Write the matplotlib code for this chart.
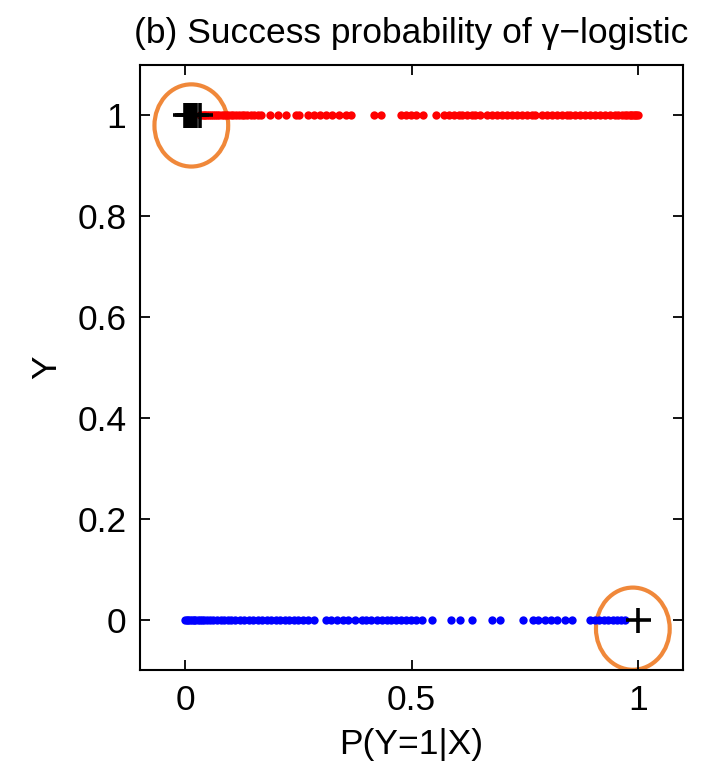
import matplotlib
matplotlib.use('Agg')
import matplotlib.pyplot as plt
from matplotlib.patches import Ellipse

plt.rcParams['font.family'] = ['Liberation Sans', 'DejaVu Sans']

# P(Y=1|X) for the samples with Y = 1 (red) and Y = 0 (blue)
p_y1 = [0.032, 0.036, 0.04, 0.044, 0.048, 0.052, 0.057, 0.061, 0.066, 0.07, 0.075,
        0.08, 0.085, 0.09, 0.095, 0.1, 0.106, 0.112, 0.118, 0.124, 0.13, 0.137,
        0.144, 0.152, 0.16, 0.167, 0.186, 0.204, 0.222, 0.244, 0.252, 0.27, 0.285,
        0.298, 0.31, 0.325, 0.34, 0.355, 0.366, 0.417, 0.432, 0.476, 0.487, 0.498,
        0.509, 0.526, 0.553, 0.571, 0.582, 0.593, 0.604, 0.612, 0.623, 0.634, 0.641,
        0.652, 0.667, 0.678, 0.689, 0.7, 0.711, 0.722, 0.733, 0.744, 0.755, 0.766,
        0.773, 0.788, 0.799, 0.81, 0.821, 0.832, 0.843, 0.85, 0.861, 0.872, 0.883,
        0.894, 0.905, 0.916, 0.927, 0.938, 0.949, 0.957, 0.964, 0.971, 0.977, 0.982,
        0.986, 0.99, 0.993, 0.997, 1.0]
p_y0 = [0.0, 0.003, 0.006, 0.01, 0.014, 0.018, 0.022, 0.027, 0.032, 0.037, 0.042,
        0.048, 0.055, 0.062, 0.07, 0.078, 0.085, 0.093, 0.1, 0.11, 0.12, 0.13,
        0.14, 0.15, 0.16, 0.17, 0.18, 0.19, 0.2, 0.21, 0.22, 0.23, 0.24, 0.248,
        0.259, 0.27, 0.285, 0.31, 0.322, 0.335, 0.348, 0.36, 0.375, 0.39, 0.4,
        0.41, 0.424, 0.435, 0.445, 0.455, 0.466, 0.476, 0.487, 0.498, 0.51, 0.524,
        0.546, 0.586, 0.608, 0.634, 0.678, 0.696, 0.747, 0.769, 0.78, 0.795, 0.808,
        0.821, 0.839, 0.854, 0.894, 0.905, 0.915, 0.925, 0.935, 0.945, 0.955,
        0.963, 0.971]

# outliers marked with black plus signs
out_y1 = [0.0, 0.004, 0.008, 0.012, 0.016, 0.018, 0.023, 0.032]
out_y0 = [1.0]

fig = plt.figure(figsize=(7.19, 7.64), dpi=100)
ax = fig.add_axes([0.195, 0.123, 0.755, 0.792])

ax.plot(p_y1, [1] * len(p_y1), 'o', color='#ff0000', ms=6, mew=0)
ax.plot(p_y0, [0] * len(p_y0), 'o', color='#0000ff', ms=6, mew=0)
ax.plot(out_y1, [1] * len(out_y1), '+', color='black', ms=18, mew=2.6)
ax.plot(out_y0, [0] * len(out_y0), '+', color='black', ms=18, mew=2.6)

# highlight circles
for cx, cy in [(0.013, 0.98), (0.989, -0.018)]:
    ax.add_patch(Ellipse((cx, cy), 0.163, 0.163, fill=False,
                         edgecolor='#f0883a', lw=3))

ax.set_xlim(-0.1, 1.1)
ax.set_ylim(-0.1, 1.1)
ax.set_xticks([0, 0.5, 1])
ax.set_xticklabels(['0', '0.5', '1'])
ax.set_yticks([0, 0.2, 0.4, 0.6, 0.8, 1])
ax.set_yticklabels(['0', '0.2', '0.4', '0.6', '0.8', '1'])
ax.tick_params(direction='in', length=7, width=1.3, labelsize=25.5,
               top=True, right=True, pad=10)
for s in ax.spines.values():
    s.set_linewidth(1.5)

ax.set_xlabel('P(Y=1|X)', fontsize=25.5, labelpad=8)
ax.set_ylabel('Y', fontsize=25.5, labelpad=10)
ax.set_title('(b) Success probability of \u03b3\u2212logistic', fontsize=25.5, pad=16)

fig.savefig('out.png', dpi=100)
